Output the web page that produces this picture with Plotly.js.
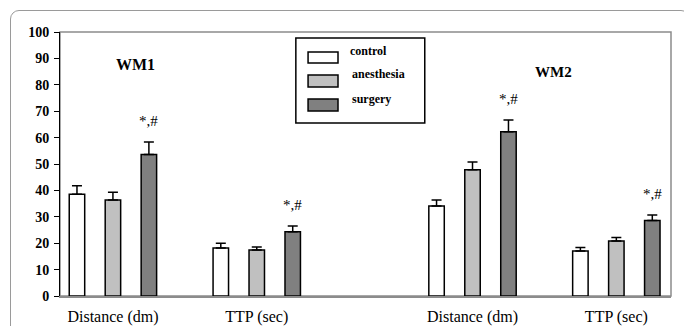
<!DOCTYPE html>
<html>
<head>
<meta charset="utf-8">
<script src="https://cdn.plot.ly/plotly-3.0.1.min.js"></script>
<style>
  html, body { margin: 0; padding: 0; background: #ffffff; }
  #wrap { position: relative; width: 684px; height: 326px; overflow: hidden; }
  #frame { position: absolute; left: 10px; top: 10px; width: 680px; height: 340px;
           border: 1px solid #9a9a9a; border-radius: 9px; box-sizing: border-box; }
  #chart { position: absolute; left: 0; top: 0; width: 684px; height: 326px; }
</style>
</head>
<body>
<div id="wrap">
  <div id="frame"></div>
  <div id="chart"></div>
</div>
<script>
// Category positions (gap between WM1 and WM2 groups) and tick labels
var groupPos = [0, 1, 2.5, 3.5];
var tickLabels = ["Distance (dm)", "TTP (sec)", "Distance (dm)", "TTP (sec)"];

// Series names, values (mean) and upward error bars
var seriesNames = ["control", "anesthesia", "surgery"];
var seriesColors = ["#ffffff", "#c0c0c0", "#808080"];
var controlVals = [38.5, 18.2, 34.1, 17.0];
var controlErr  = [3.3, 1.8, 2.3, 1.4];
var anesthesiaVals = [36.4, 17.4, 47.8, 20.8];
var anesthesiaErr  = [2.9, 1.2, 3.0, 1.4];
var surgeryVals = [53.6, 24.3, 62.2, 28.6];
var surgeryErr  = [4.7, 2.2, 4.5, 2.1];

var sigLabel = "*,#";
var panelLabels = ["WM1", "WM2"];

var serif = "Liberation Serif, Times New Roman, serif";

function barTrace(name, vals, errs, color) {
  return {
    type: "bar",
    name: name,
    x: groupPos,
    y: vals,
    marker: { color: color, line: { color: "#000000", width: 1.5 } },
    error_y: {
      type: "data", symmetric: false, array: errs,
      arrayminus: errs.map(function () { return 0; }),
      color: "#000000", thickness: 1.5, width: 5
    },
    hoverinfo: "skip"
  };
}

var data = [
  barTrace(seriesNames[0], controlVals, controlErr, seriesColors[0]),
  barTrace(seriesNames[1], anesthesiaVals, anesthesiaErr, seriesColors[1]),
  barTrace(seriesNames[2], surgeryVals, surgeryErr, seriesColors[2])
];

var annotations = groupPos.map(function (p, i) {
  return {
    x: p + 0.25, y: surgeryVals[i] + surgeryErr[i],
    xref: "x", yref: "y", text: sigLabel, showarrow: false,
    yanchor: "middle", yshift: 21,
    font: { family: serif, size: 15, color: "#000000" }
  };
});
annotations.push({
  x: 0.16, y: 87.8, xref: "x", yref: "y", text: "<b>" + panelLabels[0] + "</b>",
  showarrow: false, font: { family: serif, size: 16, color: "#000000" }
});
annotations.push({
  x: 3.06, y: 84.8, xref: "x", yref: "y", text: "<b>" + panelLabels[1] + "</b>",
  showarrow: false, font: { family: serif, size: 15, color: "#000000" }
});

// Legend box drawn in paper coordinates (legend frame, swatches and labels)
var shapes = [{
  type: "rect", xref: "paper", yref: "paper", x0: 0, x1: 1, y0: 0, y1: 1,
  line: { color: "#8c8c8c", width: 1.5 }, layer: "below"
}, {
  type: "rect", xref: "paper", yref: "paper", x0: 0.386, x1: 0.597, y0: 0.655, y1: 0.977,
  line: { color: "#000000", width: 1.5 }, fillcolor: "#ffffff", layer: "above"
}];
var legendRows = [[0.924, 0.883, 0.928], [0.837, 0.792, 0.840], [0.746, 0.701, 0.748]];
seriesNames.forEach(function (n, i) {
  var r = legendRows[i];
  shapes.push({
    type: "rect", xref: "paper", yref: "paper", x0: 0.406, x1: 0.455, y0: r[1], y1: r[0],
    line: { color: "#000000", width: 1.5 }, fillcolor: seriesColors[i], layer: "above"
  });
  annotations.push({
    x: i === 0 ? 0.472 : 0.475, y: r[2], xref: "paper", yref: "paper",
    xanchor: "left", yanchor: "middle", showarrow: false, text: "<b>" + n + "</b>",
    font: { family: serif, size: 12, color: "#000000" }
  });
});

var layout = {
  width: 684, height: 326,
  margin: { l: 60, r: 13, t: 32, b: 30, pad: 0 },
  paper_bgcolor: "rgba(0,0,0,0)",
  plot_bgcolor: "rgba(0,0,0,0)",
  barmode: "group",
  bargap: 0.25,
  bargroupgap: 0.57,
  showlegend: false,
  xaxis: {
    range: [-0.368, 3.88],
    tickmode: "array", tickvals: groupPos, ticktext: tickLabels,
    ticks: "", showgrid: false, zeroline: false,
    showline: true, linecolor: "#8c8c8c", linewidth: 1.5,
    tickfont: { family: serif, size: 16, color: "#000000" },
    ticklabelstandoff: 5,
    fixedrange: true
  },
  yaxis: {
    range: [0, 100], dtick: 10, tick0: 0,
    ticks: "outside", ticklen: 5, tickwidth: 1, tickcolor: "#000000",
    showgrid: false, zeroline: false,
    showline: true, linecolor: "#000000", linewidth: 1,
    tickfont: { family: serif, size: 14, color: "#000000", weight: "bold" },
    ticklabelstandoff: 2,
    fixedrange: true
  },
  shapes: shapes,
  annotations: annotations
};

Plotly.newPlot("chart", data, layout, { displayModeBar: false, staticPlot: true });
</script>
</body>
</html>
